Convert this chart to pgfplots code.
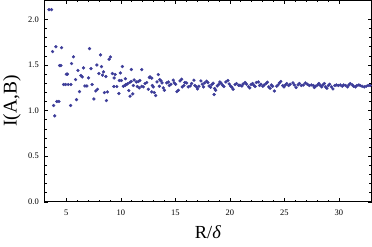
\documentclass[border=0pt]{standalone}
\usepackage{pgfplots}
\pgfplotsset{compat=1.18}
\usepackage{fontspec}
\setmainfont{Liberation Serif}
\definecolor{ptcol}{RGB}{61,61,153}
\begin{document}
\begin{tikzpicture}
\begin{axis}[
  at={(0,0)}, anchor=south west,
  width=327.2bp, height=201.7bp, scale only axis,
  xmin=3, xmax=33, ymin=0, ymax=2.21,
  xtick={5,10,15,20,25,30}, minor x tick num=4,
  ytick={0,0.5,1,1.5,2}, minor y tick num=4,
  tick align=inside,
  major tick length=3.8bp, minor tick length=2.2bp,
  axis line style={line width=0.7bp},
  every tick/.style={line width=0.6bp, black},
  /pgf/number format/assume math mode=true,
  ticklabel style={font=\fontsize{8.5}{10}\selectfont},
  xticklabel style={anchor=base, yshift=-13.3bp, inner sep=0pt},
  yticklabel style={anchor=east, xshift=-5.5bp, inner sep=0pt,
    /pgf/number format/.cd, fixed, fixed zerofill, precision=1},
  xlabel={R/\textit{δ}},
  ylabel={I(A,B)},
  xlabel style={at={(axis description cs:0.5,-0.1815)}, anchor=base, inner sep=0pt,
    font=\fontsize{18.5}{22}\selectfont},
  ylabel style={at={(axis description cs:-0.0994,0.5)}, anchor=center,
    font=\fontsize{19.5}{23}\selectfont},
]
\addplot[only marks, mark=*, mark size=1.45bp, color=ptcol, mark options={draw=ptcol, fill=ptcol}] table {
x y
3.41 2.107
3.65 2.107
3.74 1.647
4.05 1.70
3.83 1.056
3.94 0.943
4.14 1.10
4.33 1.10
4.38 1.494
4.51 1.494
4.57 1.69
4.75 1.286
4.93 1.286
5.18 1.286
5.42 1.286
5.00 1.399
5.11 1.399
5.39 1.056
5.48 1.516
5.66 1.59
5.85 1.34
5.94 1.12
6.07 1.44
6.21 1.209
6.34 1.384
6.46 1.369
6.58 1.468
6.71 1.27
6.89 1.27
7.04 1.358
7.13 1.68
7.26 1.46
7.37 1.286
7.53 1.128
8.14 1.61
8.93 1.563
9.05 1.588
7.80 1.50
8.23 1.483
8.41 1.424
7.99 1.406
8.32 1.388
8.63 1.373
9.23 1.406
9.48 1.395
9.39 1.358
10.15 1.483
9.96 1.413
10.97 1.45
11.92 1.45
10.42 1.35
9.87 1.33
10.05 1.33
10.46 1.286
10.61 1.293
10.82 1.308
10.94 1.319
11.22 1.336
11.43 1.314
11.61 1.319
11.74 1.33
12.22 1.297
12.38 1.308
12.62 1.362
7.86 1.234
7.71 1.216
8.50 1.198
8.77 1.205
8.68 1.11
9.36 1.264
9.63 1.264
9.82 1.187
10.24 1.267
10.39 1.275
10.73 1.22
11.15 1.275
10.85 1.158
11.10 1.183
11.52 1.264
11.70 1.249
11.92 1.267
12.07 1.26
12.52 1.234
12.68 1.369
12.84 1.355
13.44 1.395
12.89 1.275
12.98 1.26
12.84 1.205
13.07 1.198
13.20 1.165
13.32 1.314
13.57 1.34
13.69 1.325
13.78 1.303
13.53 1.267
13.90 1.249
13.99 1.223
14.21 1.303
14.36 1.314
14.45 1.275
14.60 1.289
14.81 1.333
14.90 1.303
15.03 1.289
15.15 1.209
15.27 1.223
15.43 1.325
15.58 1.344
15.64 1.26
15.79 1.275
15.88 1.308
16.04 1.303
16.18 1.26
16.37 1.27
16.50 1.297
16.71 1.333
16.80 1.275
16.95 1.26
17.04 1.238
17.16 1.267
17.35 1.325
17.47 1.289
17.59 1.26
17.69 1.303
17.87 1.322
17.99 1.308
18.10 1.27
18.23 1.256
18.35 1.286
18.47 1.30
18.60 1.242
18.69 1.223
18.56 1.176
18.84 1.27
18.97 1.286
19.08 1.314
19.20 1.30
19.33 1.278
19.45 1.264
19.63 1.314
19.82 1.33
19.94 1.292
20.06 1.27
20.18 1.256
20.30 1.234
20.48 1.286
20.61 1.297
20.80 1.278
20.92 1.278
21.10 1.27
21.22 1.292
21.40 1.308
21.53 1.289
21.71 1.264
21.83 1.249
21.95 1.286
22.08 1.297
22.20 1.278
22.32 1.264
22.44 1.308
22.62 1.314
22.72 1.275
22.84 1.289
23.02 1.267
23.14 1.281
23.32 1.297
23.45 1.311
23.57 1.26
23.69 1.245
23.81 1.281
23.93 1.267
24.08 1.215
24.30 1.267
24.42 1.281
24.55 1.303
24.67 1.319
24.85 1.275
24.97 1.26
25.10 1.281
25.22 1.297
25.40 1.275
25.52 1.289
25.79 1.303
25.92 1.281
26.07 1.253
26.25 1.281
26.38 1.297
26.56 1.275
26.74 1.281
26.93 1.303
27.11 1.289
27.29 1.275
27.47 1.281
27.66 1.275
27.75 1.253
27.87 1.267
28.05 1.281
28.17 1.297
28.30 1.275
28.42 1.26
28.54 1.281
28.66 1.297
28.78 1.26
28.90 1.245
29.03 1.275
29.15 1.289
29.33 1.26
29.45 1.238
29.63 1.275
29.76 1.281
29.95 1.275
30.13 1.281
30.31 1.267
30.43 1.281
30.61 1.275
30.80 1.26
30.92 1.281
31.04 1.297
31.23 1.281
31.35 1.267
31.53 1.26
31.65 1.275
31.83 1.281
31.96 1.275
32.14 1.267
32.32 1.26
32.51 1.267
32.69 1.275
32.87 1.275
};
\end{axis}
\pgfresetboundingbox
\useasboundingbox (-44.5bp,-44.3bp) rectangle (327.6bp,201.9bp);
\end{tikzpicture}
\end{document}
